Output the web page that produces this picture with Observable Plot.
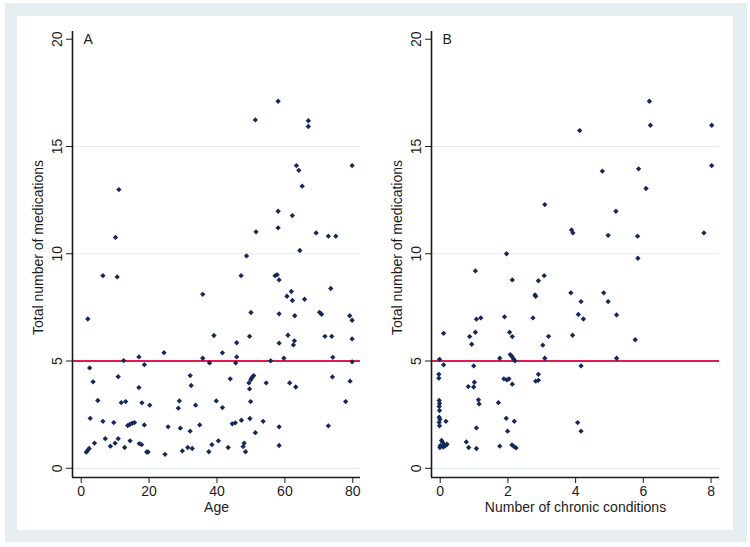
<!DOCTYPE html>
<html>
<head>
<meta charset="utf-8">
<script src="https://cdn.jsdelivr.net/npm/d3@7"></script>
<script src="https://cdn.jsdelivr.net/npm/@observablehq/plot@0.6"></script>
<style>
  html, body { margin: 0; padding: 0; background: #ffffff; }
  body { width: 750px; height: 547px; position: relative; overflow: hidden; font-family: "Liberation Sans", Arial, sans-serif; }
  #outer { position: absolute; left: 5px; top: 3px; width: 742px; height: 539px; background: #e7eef1; }
  #inner { position: absolute; left: 17px; top: 16px; width: 716px; height: 514px; background: #ffffff; }
  .panel { position: absolute; top: 16px; }
  #panelA { left: 17px; }
  #panelB { left: 375px; }
</style>
</head>
<body>
<div id="outer"></div>
<div id="inner"></div>
<div id="panelA" class="panel"></div>
<div id="panelB" class="panel"></div>
<script>
// ---- Data ----
const yTicks = [0, 5, 10, 15, 20];
const gridValues = [0, 5, 10, 15];
const threshold = 5;
const yTitle = "Total number of medications";

// Panel A: Age vs total number of medications
const ageTicks = [0, 20, 40, 60, 80];
const ageLabel = "Age";
const ageValues = [
  10.1, 11.1, 51.3, 58.0, 66.9, 66.9, 63.4, 64.1, 65.1, 79.8, 58.0, 62.2, 51.5, 58.0, 69.2, 72.8, 75.0, 64.4, 48.7,
  6.4, 10.6, 1.95, 12.5, 17.0, 24.4, 18.6, 2.5, 3.5, 10.9, 17.0, 4.9, 11.8, 13.1, 17.9, 20.2, 2.65, 6.4, 9.6,
  13.7, 14.3, 15.0, 15.7, 18.6, 25.6, 7.1, 10.9, 3.9, 8.6, 10.0, 14.4, 17.1, 17.8, 12.8, 19.3, 19.7, 1.5, 1.95, 2.35, 24.7,
  47.1, 35.8, 50.0, 39.1, 49.6, 45.8, 41.6, 35.8, 45.8, 37.8, 45.5, 32.1, 32.4, 43.9, 50.8, 50.3, 50.0, 49.4, 49.6, 54.5,
  28.9, 28.6, 33.7, 39.8, 41.6, 49.9, 29.2, 32.1, 34.9, 44.5, 45.4, 47.2, 49.7, 53.6, 51.3, 29.8, 31.4, 32.7, 37.6, 38.5,
  40.4, 43.3, 48.0, 47.7, 48.4,
  57.1, 57.7, 58.3, 60.6, 61.9, 62.2, 65.8, 73.5, 58.3, 62.9, 70.2, 70.8, 79.1, 79.8, 60.9, 58.3, 62.8, 62.5, 71.8, 73.8,
  79.8, 55.8, 59.7, 74.1, 79.8, 61.4, 63.2, 74.0, 79.2, 77.9, 58.3, 72.8, 58.3
];
const ageMeds = [
  10.76, 12.99, 16.24, 17.11, 16.20, 15.93, 14.11, 13.89, 13.15, 14.11, 11.98, 11.78, 11.02, 11.21, 10.97, 10.82, 10.82, 10.15, 9.90,
  8.98, 8.92, 6.96, 5.02, 5.19, 5.39, 4.83, 4.68, 4.03, 4.27, 3.76, 3.16, 3.06, 3.11, 3.05, 2.94, 2.33, 2.19, 2.13,
  1.99, 2.04, 2.10, 2.13, 2.02, 1.93, 1.38, 1.38, 1.17, 1.03, 1.17, 1.28, 1.15, 1.10, 0.97, 0.76, 0.76, 0.75, 0.84, 0.92, 0.65,
  8.98, 8.11, 7.26, 6.19, 6.15, 5.85, 5.38, 5.13, 5.19, 4.91, 4.91, 4.32, 3.86, 4.17, 4.32, 4.23, 4.14, 3.98, 3.70, 3.98,
  3.14, 2.80, 2.94, 3.14, 2.83, 3.11, 1.87, 1.73, 2.02, 2.07, 2.12, 2.24, 2.32, 2.19, 1.66, 0.81, 0.97, 0.92, 0.77, 1.10,
  1.28, 0.97, 1.17, 1.01, 0.77,
  8.98, 9.02, 8.78, 8.02, 8.24, 7.82, 7.88, 8.38, 7.20, 7.11, 7.27, 7.18, 7.11, 6.90, 6.20, 5.83, 5.94, 5.75, 6.15, 6.15,
  6.03, 5.01, 5.13, 5.17, 4.96, 3.98, 3.79, 4.26, 4.06, 3.11, 1.93, 1.98, 1.06
];

// Panel B: Number of chronic conditions vs total number of medications
const condTicks = [0, 2, 4, 6, 8];
const condLabel = "Number of chronic conditions";
const condValues = [
  3.09, 3.88, 3.92, 4.12, 4.79, 4.96, 5.19, 5.83, 5.84, 5.86, 6.08, 6.18, 6.21, 7.79, 8.02, 8.02,
  1.96, 1.04, 2.13, 1.07, 1.20, 1.90, 0.10, 0.87, 1.04, 0.93, 2.05, 2.13, -0.02, 0.10, 1.76, 2.07, 2.12, 2.16, 2.21,
  0.99, -0.04, -0.04, 1.01, 0.99, 0.83, 1.88, 1.97, 2.03, 2.13,
  -0.03, -0.02, -0.03, -0.02, -0.03, -0.01, -0.03, -0.02,
  1.13, 1.15, 1.72, 0.17, 1.95, 2.19, 1.07, 1.99,
  0.04, 0.07, 0.11, 0.15, 0.00, 0.20, 0.09, -0.01,
  0.77, 0.84, 1.07, 1.76, 2.12, 2.18, 2.24,
  3.07, 2.90, 2.80, 2.82, 2.74, 3.20, 3.03, 3.09, 2.90, 2.82, 2.90, 3.86, 4.16, 4.08, 4.23, 3.91, 4.16, 4.06, 4.16,
  4.83, 4.96, 5.21, 5.21, 5.76
];
const condMeds = [
  12.29, 11.11, 10.97, 15.74, 13.85, 10.86, 11.98, 10.82, 9.79, 13.96, 13.04, 17.11, 15.99, 10.97, 15.99, 14.11,
  10.00, 9.20, 8.78, 6.95, 7.01, 7.06, 6.29, 6.14, 6.34, 5.78, 6.34, 6.14, 5.08, 4.82, 5.13, 5.30, 5.21, 5.11, 5.01,
  4.77, 4.38, 4.20, 4.01, 3.79, 3.81, 4.17, 4.12, 4.17, 3.92,
  3.16, 3.02, 2.88, 2.69, 2.38, 2.28, 2.14, 1.98,
  3.19, 3.00, 3.06, 2.19, 2.33, 2.19, 1.88, 1.73,
  1.30, 1.21, 1.11, 1.05, 1.05, 1.12, 0.99, 0.97,
  1.23, 0.97, 0.92, 1.03, 1.09, 1.01, 0.95,
  8.98, 8.74, 8.08, 8.02, 7.01, 6.15, 5.74, 5.13, 4.38, 4.06, 4.10, 8.18, 7.77, 7.17, 6.96, 6.20, 4.77, 2.13, 1.73,
  8.18, 7.77, 7.15, 5.13, 5.99
];

// ---- Drawing ----
const FONT = "'Liberation Sans', Arial, sans-serif";
const INK = "#1b1b1b";
const DOT = "#14285a";
const Y_DOMAIN = [-0.43, 20.36];

function panel(xs, ys, xDomain, xTicks, xLabel, letter, mLeft, mRight) {
  const data = xs.map((x, i) => ({x, y: ys[i]}));
  return Plot.plot({
    width: 358,
    height: 514,
    marginLeft: mLeft,
    marginRight: mRight,
    marginTop: 15,
    marginBottom: 53,
    style: {fontFamily: FONT, fontSize: "14px", color: INK, background: "transparent", overflow: "visible"},
    x: {domain: xDomain, ticks: xTicks, tickSize: 6, tickPadding: 3, label: null, tickFormat: d => String(d)},
    y: {domain: Y_DOMAIN, ticks: yTicks, tickSize: 6, label: null, tickFormat: () => ""},
    marks: [
      Plot.ruleY(gridValues, {stroke: "#e3eaef", strokeWidth: 1.2}),
      Plot.ruleY([threshold], {stroke: "#e3194d", strokeWidth: 1.8}),
      Plot.dot(data, {x: "x", y: "y", symbol: "diamond2", r: 2.4, fill: DOT, stroke: "none"}),
      Plot.ruleX([xDomain[0]], {stroke: INK, strokeWidth: 1.6}),
      Plot.ruleY([Y_DOMAIN[0]], {stroke: INK, strokeWidth: 1.6}),
      Plot.text(yTicks, {y: d => d, text: d => String(d), frameAnchor: "left", dx: -15,
        rotate: -90, textAnchor: "middle", lineAnchor: "middle", fontSize: 14, fill: INK}),
      Plot.text([xLabel], {frameAnchor: "bottom", dy: 30, lineAnchor: "middle", fontSize: 14, fill: INK}),
      Plot.text([yTitle], {frameAnchor: "left", dx: -34, dy: -7, rotate: -90, textAnchor: "middle",
        lineAnchor: "middle", fontSize: 14, fill: INK}),
      Plot.text([{t: letter, y: 20}], {y: "y", text: "t", frameAnchor: "left", dx: 11, textAnchor: "start",
        lineAnchor: "middle", fontSize: 14, fill: INK})
    ]
  });
}

document.getElementById("panelA").appendChild(
  panel(ageValues, ageMeds, [-2.56, 82.27], ageTicks, ageLabel, "A", 55, 15));
document.getElementById("panelB").appendChild(
  panel(condValues, condMeds, [-0.257, 8.25], condTicks, condLabel, "B", 56, 14));
</script>
</body>
</html>
